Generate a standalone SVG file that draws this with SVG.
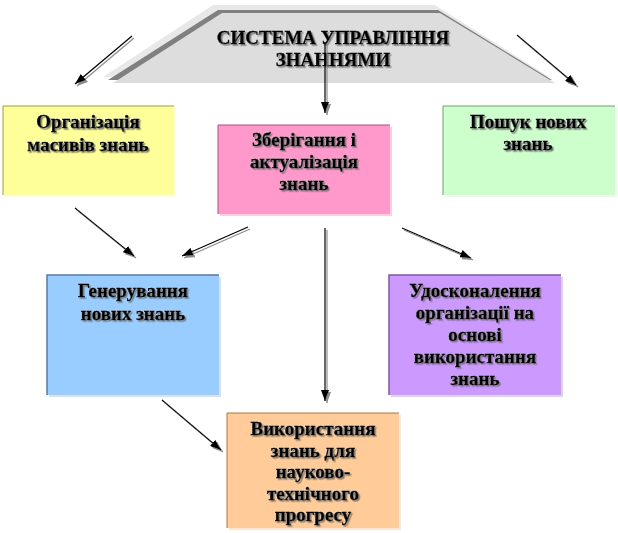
<svg xmlns="http://www.w3.org/2000/svg" width="618" height="533" viewBox="0 0 618 533">
<defs>
<style>
.t{font-family:"Liberation Serif","Times New Roman",serif;font-weight:bold;font-size:19px;fill:#000;stroke:#000;stroke-width:0.35;text-anchor:middle;filter:url(#ts)}
.c{fill:none;stroke:#000;stroke-width:1.2}
.sh{opacity:0.5}
</style>
<filter id="ts" x="-5%" y="-20%" width="115%" height="150%">
<feDropShadow dx="1.5" dy="1.5" stdDeviation="0.3" flood-color="#7a7a7a" flood-opacity="1"/>
</filter>
<filter id="cs" x="-20%" y="-20%" width="150%" height="150%" filterUnits="userSpaceOnUse">
<feDropShadow dx="2" dy="2" stdDeviation="0.4" flood-color="#8c8c8c" flood-opacity="1"/>
</filter>
<marker id="ah" viewBox="0 0 11 8" refX="11" refY="4" markerWidth="11" markerHeight="8" markerUnits="userSpaceOnUse" orient="auto">
<path d="M0,0 L11,4 L0,8 z" fill="#000"/>
</marker>
</defs>
<rect width="618" height="533" fill="#fff"/>

<g id="title">
<polygon points="213,5 435,5 549,77 103,77" fill="#e8e8e8"/>
<polygon points="218,10 438,10 552,80 108,80" fill="#808080"/>
<polygon points="222,13 440,13 555,83 113,83" fill="#dddddd"/>
<text class="t" x="333" y="44">СИСТЕМА УПРАВЛІННЯ</text>
<text class="t" x="333" y="66">ЗНАННЯМИ</text>
</g>

<g id="n1">
<rect x="5" y="108" width="171" height="89" fill="#ffff99" class="sh"/>
<rect x="3" y="106" width="171" height="89" fill="#ffff99"/>
<polyline points="3,195 3,106 174,106" fill="none" stroke="#999966" stroke-width="1"/>
<text class="t" x="88" y="128">Організація</text>
<text class="t" x="88" y="151">масивів знань</text>
</g>

<g id="n2">
<rect x="220" y="127" width="172" height="89" fill="#ff99cc" class="sh"/>
<rect x="218" y="125" width="172" height="89" fill="#ff99cc"/>
<polyline points="218,214 218,125 390,125" fill="none" stroke="#995c7a" stroke-width="1"/>
<text class="t" x="304" y="146">Зберігання і</text>
<text class="t" x="304" y="168">актуалізація</text>
<text class="t" x="304" y="190">знань</text>
</g>

<g id="n3">
<rect x="445" y="108" width="172" height="89" fill="#ccffcc" class="sh"/>
<rect x="443" y="106" width="172" height="89" fill="#ccffcc"/>
<polyline points="443,195 443,106 615,106" fill="none" stroke="#7a997a" stroke-width="1"/>
<text class="t" x="528" y="128">Пошук нових</text>
<text class="t" x="528" y="150">знань</text>
</g>

<g id="n4">
<rect x="49" y="277" width="172" height="120" fill="#99ccff" class="sh"/>
<rect x="47" y="275" width="172" height="120" fill="#99ccff"/>
<polyline points="47,395 47,275 219,275" fill="none" stroke="#5c7a99" stroke-width="1.5"/>
<text class="t" x="133" y="297">Генерування</text>
<text class="t" x="133" y="320">нових знань</text>
</g>

<g id="n5">
<rect x="391" y="277" width="172" height="120" fill="#cc99ff" class="sh"/>
<rect x="389" y="275" width="172" height="120" fill="#cc99ff"/>
<polyline points="389,395 389,275 561,275" fill="none" stroke="#7a5c99" stroke-width="1.5"/>
<text class="t" x="475" y="297">Удосконалення</text>
<text class="t" x="475" y="319">організації на</text>
<text class="t" x="475" y="341">основі</text>
<text class="t" x="475" y="363">використання</text>
<text class="t" x="475" y="385">знань</text>
</g>

<g id="n6">
<rect x="229" y="415" width="172" height="115" fill="#ffcc99" class="sh"/>
<rect x="227" y="413" width="172" height="115" fill="#ffcc99"/>
<polyline points="227,528 227,413 399,413" fill="none" stroke="#997a5c" stroke-width="1"/>
<text class="t" x="313" y="435">Використання</text>
<text class="t" x="313" y="457">знань для</text>
<text class="t" x="313" y="478">науково-</text>
<text class="t" x="313" y="500">технічного</text>
<text class="t" x="313" y="521">прогресу</text>
</g>

<g id="connectors" filter="url(#cs)">
<line class="c" x1="132" y1="36" x2="75" y2="84" marker-end="url(#ah)"/>
<line class="c" x1="325" y1="43" x2="325" y2="113" marker-end="url(#ah)"/>
<line class="c" x1="517" y1="35" x2="576" y2="85" marker-end="url(#ah)"/>
<line class="c" x1="75" y1="208" x2="134" y2="256" marker-end="url(#ah)"/>
<line class="c" x1="248" y1="227" x2="182" y2="256" marker-end="url(#ah)"/>
<line class="c" x1="325" y1="228" x2="325" y2="401" marker-end="url(#ah)"/>
<line class="c" x1="402" y1="228" x2="471" y2="258" marker-end="url(#ah)"/>
<line class="c" x1="162" y1="400" x2="221" y2="450" marker-end="url(#ah)"/>
</g>
</svg>
